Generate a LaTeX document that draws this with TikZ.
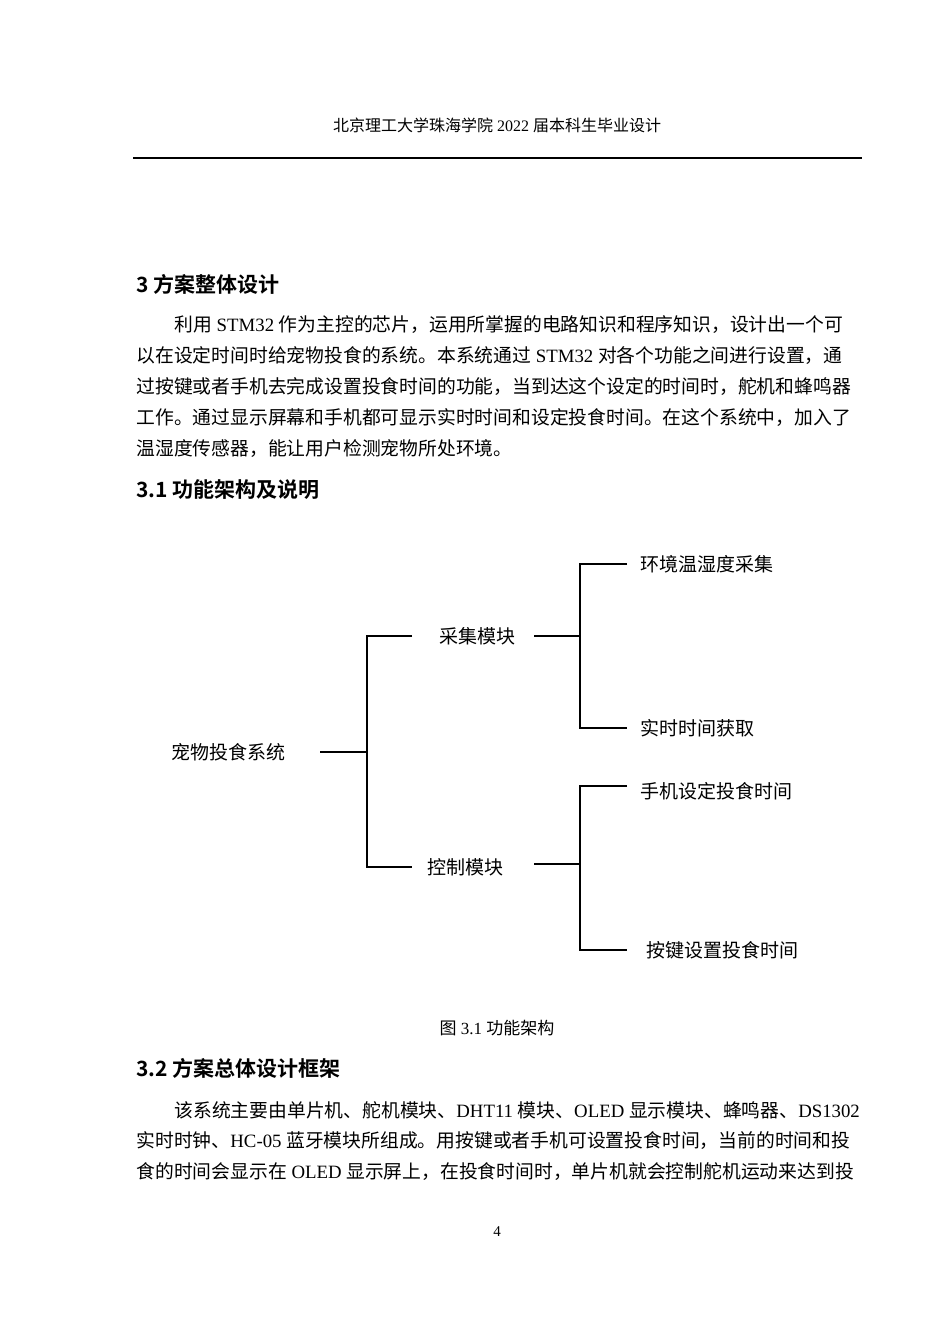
\documentclass[tikz,border=0pt]{standalone}
\usepackage{fontspec}
\setmainfont{Liberation Serif}
\newfontfamily\cjk{Noto Sans CJK SC}
\newfontfamily\cjkb{Noto Sans CJK SC Bold}
\begin{document}
\begin{tikzpicture}[x=0.5pt,y=-0.5pt,
  body/.style={anchor=west,inner sep=0,font=\fontsize{9.4}{11}\selectfont},
  head/.style={anchor=west,inner sep=0,font=\fontsize{10.5}{12}\selectfont\cjkb},
  lab/.style={inner sep=0,font=\fontsize{9.5}{11}\selectfont\cjk},
  ln/.style={line width=0.6pt}]
\useasboundingbox (0,0) rectangle (950,1344);
\node[inner sep=0,font=\fontsize{8}{10}\selectfont] (hdr) at (497,125) {{\cjk 北京理工大学珠海学院} 2022 {\cjk 届本科生毕业设计}};
\draw[line width=0.8pt] (133,158) -- (862,158);
\node[head] (h3) at (136,284) {3\ 方案整体设计};
\node[body] (p1) at (174,325) {{\cjk 利用} STM32 {\cjk 作为主控的芯片，运用所掌握的电路知识和程序知识，设计出一个可}};
\node[body] (p2) at (136,356) {{\cjk 以在设定时间时给宠物投食的系统。本系统通过} STM32 {\cjk 对各个功能之间进行设置，通}};
\node[body] (p3) at (136,387) {{\cjk 过按键或者手机去完成设置投食时间的功能，当到达这个设定的时间时，舵机和蜂鸣器}};
\node[body] (p4) at (136,418) {{\cjk 工作。通过显示屏幕和手机都可显示实时时间和设定投食时间。在这个系统中，加入了}};
\node[body] (p5) at (136,449) {{\cjk 温湿度传感器，能让用户检测宠物所处环境。}};
\node[head] (h31) at (136,490) {3.1\ 功能架构及说明};
% diagram
\node[lab] (root) at (228,752) {宠物投食系统};
\node[lab] (cj) at (477,636) {采集模块};
\node[lab] (kz) at (465,867) {控制模块};
\node[lab,anchor=west] (hj) at (640,564) {环境温湿度采集};
\node[lab,anchor=west] (ss) at (640,728) {实时时间获取};
\node[lab,anchor=west] (sj) at (640,791) {手机设定投食时间};
\node[lab,anchor=west] (aj) at (646,950) {按键设置投食时间};
\coordinate (r1) at (320,752); \coordinate (r2) at (367,752);
\draw[ln] (r1) -- (r2);
\draw[ln] (412,636) -- (367,636) -- (367,867) -- (412,867);
\draw[ln] (534,636) -- (580,636);
\draw[ln] (627,564) -- (580,564) -- (580,728) -- (627,728);
\draw[ln] (534,864) -- (580,864);
\draw[ln] (627,786) -- (580,786) -- (580,950) -- (627,950);
\node[inner sep=0,font=\fontsize{8.5}{10}\selectfont] (cap) at (497,1028) {{\cjk 图} 3.1\ {\cjk 功能架构}};
\node[head] (h32) at (136,1068) {3.2\ 方案总体设计框架};
\node[body] (q1) at (174,1110) {{\cjk 该系统主要由单片机、舵机模块、}DHT11 {\cjk 模块、}OLED {\cjk 显示模块、蜂鸣器、}DS1302};
\node[body] (q2) at (136,1141) {{\cjk 实时时钟、}HC-05 {\cjk 蓝牙模块所组成。用按键或者手机可设置投食时间，当前的时间和投}};
\node[body] (q3) at (136,1172) {{\cjk 食的时间会显示在} OLED {\cjk 显示屏上，在投食时间时，单片机就会控制舵机运动来达到投}};
\node[inner sep=0,font=\fontsize{7.5}{9}\selectfont] (pg) at (497,1232) {4};
\end{tikzpicture}
\end{document}
